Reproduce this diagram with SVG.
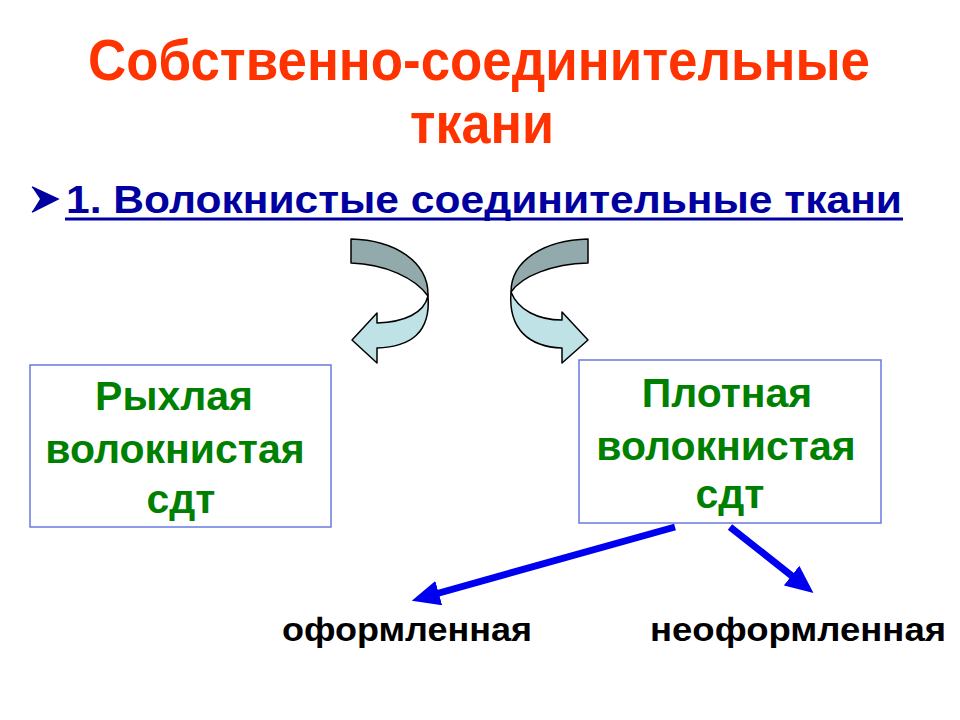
<svg xmlns="http://www.w3.org/2000/svg" width="960" height="720" viewBox="0 0 960 720">
<defs>
<style>
.title{font-family:"Liberation Sans Narrow","Liberation Sans",Arial,sans-serif;font-weight:bold;font-size:57px;fill:#FF3300}
.head{font-family:"Liberation Sans",Arial,sans-serif;font-weight:bold;font-size:39px;fill:#0000A0}
.box{fill:#FFFFFF;stroke:#6A78E0;stroke-width:1.5}
.btxt{font-family:"Liberation Sans",Arial,sans-serif;font-weight:bold;font-size:41px;fill:#008000;text-anchor:middle}
.lbl{font-family:"Liberation Sans",Arial,sans-serif;font-weight:bold;font-size:33px;fill:#000000}
.dark{fill:#93AAAC;stroke:#000;stroke-width:1.5;stroke-linejoin:round}
.light{fill:#BEE2E5;stroke:#000;stroke-width:1.5;stroke-linejoin:round}
.conn{stroke:#0000F0;stroke-width:7;fill:none}
</style>
<marker id="ah" markerUnits="strokeWidth" markerWidth="4" markerHeight="3.6" refX="1" refY="1.8" orient="auto">
<path d="M0,0 L4,1.8 L0,3.6 Z" fill="#0000F0"/>
</marker>
</defs>
<rect width="960" height="720" fill="#FFFFFF"/>
<g id="title">
<text class="title" x="88" y="80" textLength="782" lengthAdjust="spacingAndGlyphs">Собственно-соединительные</text>
<text class="title" x="410" y="143" textLength="144" lengthAdjust="spacingAndGlyphs">ткани</text>
</g>
<g id="heading">
<path d="M32,187 L58,199 L32,212 L40,199 Z" fill="#0000A0"/>
<path d="M32,187 L58,199 L32,212" fill="none" stroke="#0000A0" stroke-width="1.5"/>
<text class="head" x="66" y="213" textLength="836" lengthAdjust="spacingAndGlyphs">1. Волокнистые соединительные ткани</text>
<line x1="65" y1="219" x2="903" y2="219" stroke="#0000A0" stroke-width="3"/>
</g>
<g id="curved-arrow-left">
<path class="dark" d="M351,239 C395,240 429,262 428,296 C415,278 385,264 351,263 Z"/>
<path class="light" d="M428,296 C424,313 405,322 377,323 L377,313 L352,340 L377,363 L377,348 C410,347 431,333 428,296 Z"/>
</g>
<g id="curved-arrow-right">
<path class="dark" d="M588,239 C545,240 511,260 511,292 C522,276 552,264 588,263 Z"/>
<path class="light" d="M511,292 C518,310 538,320 562,320 L562,312 L588,340 L562,363 L562,348 C530,347 508,330 511,292 Z"/>
</g>
<g id="node-loose">
<rect class="box" x="30" y="365" width="301" height="162"/>
<text class="btxt" x="174" y="410">Рыхлая</text>
<text class="btxt" x="175" y="463">волокнистая</text>
<text class="btxt" x="181" y="513">сдт</text>
</g>
<g id="node-dense">
<rect class="box" x="579" y="360" width="302" height="163"/>
<text class="btxt" x="727" y="407">Плотная</text>
<text class="btxt" x="726" y="460">волокнистая</text>
<text class="btxt" x="730" y="508">сдт</text>
</g>
<g id="label-formed">
<text class="lbl" x="282" y="641" textLength="250" lengthAdjust="spacingAndGlyphs">оформленная</text>
</g>
<g id="label-unformed">
<text class="lbl" x="650" y="641" textLength="296" lengthAdjust="spacingAndGlyphs">неоформленная</text>
</g>
<g id="connectors">
<line class="conn" x1="675" y1="527" x2="432" y2="595" marker-end="url(#ah)"/>
<line class="conn" x1="730" y1="527" x2="797" y2="580" marker-end="url(#ah)"/>
</g>
</svg>
